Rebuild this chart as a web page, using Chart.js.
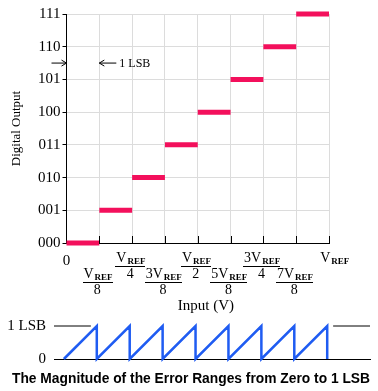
<!DOCTYPE html>
<html>
<head>
<meta charset="utf-8">
<script src="https://cdn.jsdelivr.net/npm/chart.js@4/dist/chart.umd.min.js"></script>
<style>
  html, body { margin: 0; padding: 0; background: #fff; }
  body { width: 378px; height: 391px; position: relative; overflow: hidden; }
  #main { position: absolute; left: 0; top: 0; }
  #err { position: absolute; left: 0; top: 315px; }
</style>
</head>
<body>
<canvas id="main" width="378" height="315"></canvas>
<canvas id="err" width="378" height="76"></canvas>
<script>
// ---- data ----
const codes = ['000', '001', '010', '011', '100', '101', '110', '111'];      // y tick labels
const codeLevels = [0, 1, 2, 3, 4, 5, 6, 7];                                  // output code value
const stepStart = [0, 1, 2, 3, 4, 5, 6, 7];                                   // input (eighths of VREF)
const stepEnd   = [1, 2, 3, 4, 5, 6, 7, 8];
const xTickValues = [0, 1, 2, 3, 4, 5, 6, 7, 8];                              // eighths of VREF
const xTickCoef = ['0', '', '', '3', '', '5', '3', '7', ''];
const xTickDen  = ['', '8', '4', '8', '2', '8', '4', '8', ''];
const errX = [0, 1, 1, 2, 2, 3, 3, 4, 4, 5, 5, 6, 6, 7, 7, 8, 8];
const errY = [0, 1, 0, 1, 0, 1, 0, 1, 0, 1, 0, 1, 0, 1, 0, 1, 0];
const errTopLeft = [-0.3, 0.82];
const errTopRight = [8.18, 9.3];
const errYLabels = ['0', '1 LSB'];
const errTitle = 'The Magnitude of the Error Ranges from Zero to 1 LSB';

const SERIF = '"Liberation Serif", "DejaVu Serif", serif';
const SANS = '"Liberation Sans", Arial, sans-serif';
const PINK = '#f3105c';
const BLUE = '#1f5cf2';

// build step data with gaps
const stepData = [];
codeLevels.forEach((lv, i) => {
  stepData.push({ x: stepStart[i], y: lv });
  stepData.push({ x: stepEnd[i], y: lv });
  stepData.push({ x: stepEnd[i], y: null });
});

const decoPlugin = {
  id: 'deco',
  afterDraw(chart) {
    const ctx = chart.ctx;
    const xs = chart.scales.x, ys = chart.scales.y;
    const axisY = ys.getPixelForValue(0);
    ctx.save();
    // inward x tick marks
    ctx.strokeStyle = '#000';
    ctx.lineWidth = 1;
    xTickValues.forEach(v => {
      if (v === 0) return;
      const px = Math.round(xs.getPixelForValue(v)) + 0.5;
      ctx.beginPath();
      ctx.moveTo(px, axisY - 7);
      ctx.lineTo(px, axisY + 1);
      ctx.stroke();
    });
    // fraction tick labels
    ctx.fillStyle = '#000';
    ctx.textBaseline = 'alphabetic';
    xTickValues.forEach((v, i) => {
      const px = xs.getPixelForValue(v);
      if (i === 0) {
        ctx.font = '15px ' + SERIF;
        ctx.textAlign = 'center';
        ctx.fillText(xTickCoef[i], px, axisY + 22);
        return;
      }
      const lower = (i % 2 === 1);
      const numBase = lower ? axisY + 35 : axisY + 19;
      const big = '14px ' + SERIF, small = '9px ' + SERIF;
      ctx.font = big;
      const numTxt = xTickCoef[i] + 'V';
      const w1 = ctx.measureText(numTxt).width;
      ctx.font = small;
      const w2 = ctx.measureText('REF').width;
      const w = w1 + w2 + 1;
      let cx = px - 2;
      if (!xTickDen[i]) cx = px + 5;
      const left = cx - w / 2;
      ctx.textAlign = 'left';
      ctx.font = big;
      ctx.fillText(numTxt, left, numBase);
      ctx.font = 'bold ' + small;
      ctx.fillText('REF', left + w1 + 1, numBase + 2);
      if (xTickDen[i]) {
        ctx.fillRect(Math.round(left - 1), Math.round(numBase + 4), Math.round(w + 2), 1);
        ctx.font = big;
        ctx.textAlign = 'center';
        ctx.fillText(xTickDen[i], cx, numBase + 16);
      }
    });
    // x title
    ctx.font = '15px ' + SERIF;
    ctx.textAlign = 'center';
    ctx.fillText('Input (V)', xs.getPixelForValue(4.25), axisY + 67);
    // 1 LSB annotation
    const ay = ys.getPixelForValue(5.5);
    const x0 = xs.getPixelForValue(0), x1 = xs.getPixelForValue(1);
    ctx.lineWidth = 1;
    const arrow = (from, to) => {
      const dir = Math.sign(to - from);
      ctx.beginPath();
      ctx.moveTo(from, ay); ctx.lineTo(to, ay);
      ctx.moveTo(to - dir * 5, ay - 3); ctx.lineTo(to, ay); ctx.lineTo(to - dir * 5, ay + 3);
      ctx.stroke();
    };
    arrow(x0 - 15, x0);
    arrow(x1 + 17, x1);
    ctx.font = '12px ' + SERIF;
    ctx.textAlign = 'left';
    ctx.textBaseline = 'middle';
    ctx.fillText('1 LSB', x1 + 20, ay + 1);
    ctx.restore();
  }
};

const errTitlePlugin = {
  id: 'errTitle',
  afterDraw(chart) {
    const ctx = chart.ctx;
    ctx.save();
    ctx.fillStyle = '#000';
    ctx.font = 'bold 13.8px ' + SANS;
    ctx.textAlign = 'center';
    ctx.textBaseline = 'middle';
    ctx.fillText(errTitle, chart.width / 2 + 2, chart.chartArea.bottom + 20);
    ctx.restore();
  }
};

new Chart(document.getElementById('main'), {
  type: 'line',
  data: {
    datasets: [{
      data: stepData,
      borderColor: PINK,
      borderWidth: 5,
      borderCapStyle: 'butt',
      pointRadius: 0,
      spanGaps: false,
      clip: false,
      order: 0
    }]
  },
  options: {
    responsive: false,
    animation: false,
    devicePixelRatio: 1,
    layout: { padding: { top: 14, right: 49, bottom: 0, left: 0 } },
    plugins: { legend: { display: false }, tooltip: { enabled: false } },
    scales: {
      x: {
        type: 'linear', min: 0, max: 8,
        afterFit(s) { s.height = 72; },
        ticks: { display: false, stepSize: 1 },
        grid: { color: '#dcdcdc', lineWidth: 1, drawTicks: false },
        border: { color: '#000', width: 1 }
      },
      y: {
        type: 'linear', min: 0, max: 7,
        afterFit(s) { s.width = 66.5; },
        ticks: {
          stepSize: 1, padding: 2, color: '#000',
          font: { family: SERIF, size: 15 },
          callback: (v) => codes[v]
        },
        grid: { color: '#dcdcdc', lineWidth: 1, drawTicks: true, tickLength: 4, tickColor: '#000' },
        border: { color: '#000', width: 1 },
        title: {
          display: true, text: 'Digital Output', color: '#000',
          font: { family: SERIF, size: 13 },
          padding: { top: 9, bottom: 0 }
        }
      }
    }
  },
  plugins: [decoPlugin]
});

new Chart(document.getElementById('err'), {
  type: 'line',
  data: {
    datasets: [
      {
        data: errX.map((x, i) => ({ x, y: errY[i] })),
        borderColor: BLUE, borderWidth: 2.5, pointRadius: 0, clip: false,
        borderJoinStyle: 'miter'
      },
      {
        data: errTopLeft.map(x => ({ x, y: 1 })),
        borderColor: '#000', borderWidth: 1, pointRadius: 0, clip: false
      },
      {
        data: errTopRight.map(x => ({ x, y: 1 })),
        borderColor: '#000', borderWidth: 1, pointRadius: 0, clip: false
      }
    ]
  },
  options: {
    responsive: false,
    animation: false,
    devicePixelRatio: 1,
    layout: { padding: { top: 11, right: 8, bottom: 0, left: 0 } },
    plugins: { legend: { display: false }, tooltip: { enabled: false } },
    scales: {
      x: {
        type: 'linear', min: -0.3, max: 9.3,
        afterFit(s) { s.height = 32; },
        ticks: { display: false },
        grid: { display: false, drawTicks: false },
        border: { color: '#000', width: 1 }
      },
      y: {
        type: 'linear', min: 0, max: 1,
        afterFit(s) { s.width = 54; s.paddingTop = 9; s.paddingBottom = 9; },
        ticks: {
          stepSize: 1, padding: 8, color: '#000',
          font: { family: SERIF, size: 15 },
          callback: (v) => errYLabels[v]
        },
        grid: { display: false, drawTicks: false },
        border: { display: false }
      }
    }
  },
  plugins: [errTitlePlugin]
});
</script>
</body>
</html>
